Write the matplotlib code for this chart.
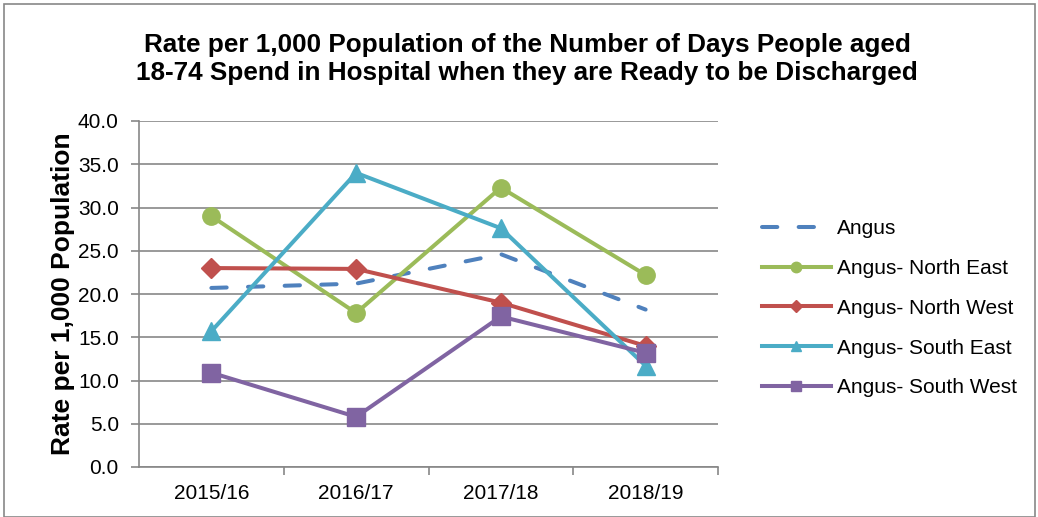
import matplotlib
matplotlib.use("Agg")
import matplotlib.pyplot as plt
from matplotlib.patches import Rectangle

categories = ["2015/16", "2016/17", "2017/18", "2018/19"]
angus = [20.7, 21.2, 24.6, 18.2]
north_east = [29.0, 17.8, 32.3, 22.2]
north_west = [23.0, 22.9, 19.0, 14.0]
south_east = [15.7, 34.0, 27.6, 11.7]
south_west = [10.9, 5.8, 17.4, 13.2]
series_names = ["Angus", "Angus- North East", "Angus- North West",
                "Angus- South East", "Angus- South West"]
y_ticks = [0, 5, 10, 15, 20, 25, 30, 35, 40]

plt.rcParams['font.family'] = ['Liberation Sans', 'DejaVu Sans']

fig = plt.figure(figsize=(10.38, 5.17), dpi=100)
ax = fig.add_axes([139/1038, 1-467/517, (718-139)/1038, (467-121)/517])

x = list(range(len(categories)))
lw = 2.9
ax.plot(x, angus, color="#4F81BD", lw=lw, ls=(0, (3.8, 5.3)), dash_capstyle='round',
        label=series_names[0], zorder=3)
ax.plot(x, north_east, color="#9BBB59", lw=lw, marker='o', ms=12.5,
        label=series_names[1], zorder=3)
ax.plot(x, north_west, color="#C0504D", lw=lw, marker='D', ms=10,
        label=series_names[2], zorder=3)
ax.plot(x, south_east, color="#4BACC6", lw=lw, marker='^', ms=13,
        label=series_names[3], zorder=3)
ax.plot(x, south_west, color="#8064A2", lw=lw, marker='s', ms=12.5,
        label=series_names[4], zorder=4)

ax.set_xlim(-0.5, 3.5)
ax.set_ylim(0, 40)
ax.set_yticks(y_ticks)
ax.set_yticklabels([f"{v:.1f}" for v in y_ticks], fontsize=15)
ax.set_xticks(x)
ax.set_xticklabels(categories, fontsize=15)
ax.set_xticks([0.5, 1.5, 2.5, 3.5], minor=True)
ax.tick_params(axis='x', which='major', length=0, pad=12)
ax.tick_params(axis='x', which='minor', length=6, color="#878787", width=1.2)
ax.tick_params(axis='y', which='major', length=6, color="#878787", width=1.2, pad=8.5)
ax.yaxis.grid(True, color="#878787", lw=1.2)
ax.set_axisbelow(True)
for s in ['top', 'right']:
    ax.spines[s].set_visible(False)
for s in ['left', 'bottom']:
    ax.spines[s].set_color("#878787")
    ax.spines[s].set_linewidth(1.2)

ax.set_ylabel("Rate per 1,000 Population", fontsize=19, fontweight='bold')
ax.yaxis.set_label_coords((75.5-139)/579, 0.5)

fig.text(527/1038, 1-59/517,
         "Rate per 1,000 Population of the Number of Days People aged\n18-74 Spend in Hospital when they are Ready to be Discharged",
         ha='center', va='center', fontsize=18.8, fontweight='bold', linespacing=1.25)

leg = ax.legend(loc='upper left', bbox_to_anchor=((762-139)/579, (467-219)/346),
                frameon=False, fontsize=15, handlelength=3.3, markerscale=0.6,
                labelspacing=1.0, handletextpad=0.3, borderaxespad=0, borderpad=0)

fig.patches.append(Rectangle((4/1038, 0), 1 - 7/1038, 1 - 4/517, transform=fig.transFigure,
                             fill=False, edgecolor="#878787", lw=1.2))

fig.savefig("out.png", dpi=100)
